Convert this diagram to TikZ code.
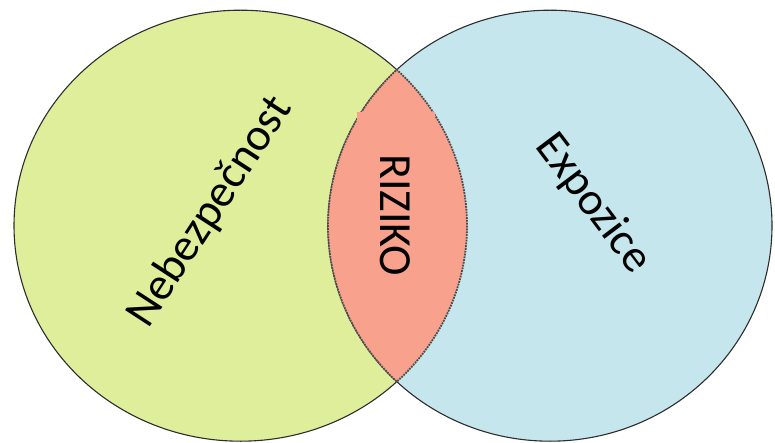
\documentclass[tikz,border=0pt]{standalone}
\usepackage{fontspec}
\setmainfont{Carlito}
\definecolor{hazardgreen}{RGB}{223,238,155}
\definecolor{exposureblue}{RGB}{197,230,236}
\definecolor{risksalmon}{RGB}{248,162,142}
\definecolor{rimgray}{RGB}{45,45,45}
\begin{document}
\begin{tikzpicture}[x=1pt,y=-1pt,
  rim/.style={draw=rimgray,line width=1.1pt},
  lensrim/.style={draw=gray!60!black,line width=1.8pt,densely dotted},
  label/.style={inner sep=0pt,font=\fontsize{46}{54}\selectfont,text=black}]
  \useasboundingbox (0,0) rectangle (775,443);
  % the two sets
  \path[rim,fill=hazardgreen] (240.5,225.7) ellipse [x radius=226.5, y radius=215.5];
  \path[rim,fill=exposureblue] (550,225.7) ellipse [x radius=222, y radius=215.5];
  % their overlap
  \begin{scope}
    \clip (240.5,225.7) ellipse [x radius=226.5, y radius=215.5];
    \fill[risksalmon] (550,225.7) ellipse [x radius=222, y radius=215.5];
    \path[lensrim] (550,225.7) ellipse [x radius=222, y radius=215.5];
  \end{scope}
  \begin{scope}
    \clip (550,225.7) ellipse [x radius=222, y radius=215.5];
    \path[lensrim] (240.5,225.7) ellipse [x radius=226.5, y radius=215.5];
  \end{scope}
  \fill[risksalmon] (357,112) rectangle (435,300);
  % labels
  \node[label,rotate=57] (hazard) at (210,212) {Nebezpečnost};
  \node[label,rotate=-90] (risk) at (395,215) {RIZIKO};
  \node[label,rotate=-53] (exposure) at (593,204) {Expozice};
\end{tikzpicture}
\end{document}
